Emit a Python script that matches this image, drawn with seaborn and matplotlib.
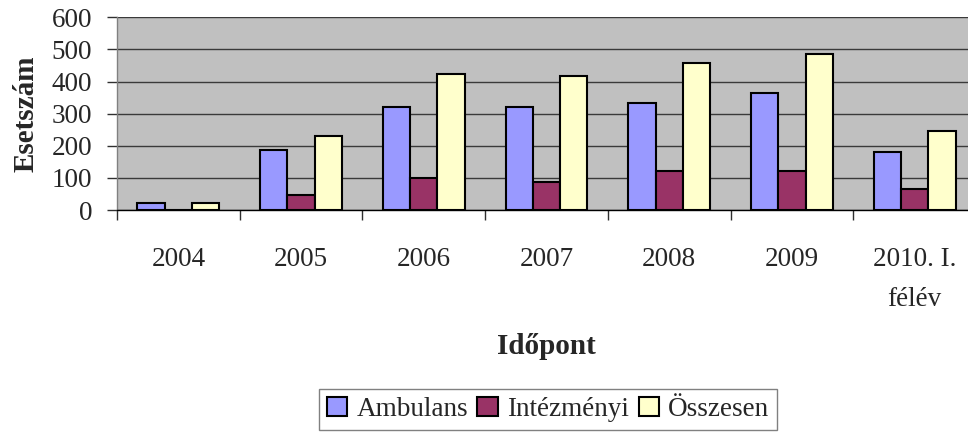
import matplotlib
matplotlib.use("Agg")
import matplotlib.pyplot as plt
import seaborn as sns
import pandas as pd
import numpy as np
from matplotlib.patches import Patch

categories = ["2004", "2005", "2006", "2007", "2008", "2009", "2010. I.\nfélév"]
series_names = ["Ambulans", "Intézményi", "Összesen"]
ambulans = [22, 187, 321, 321, 334, 363, 181]
intezmenyi = [0, 47, 99, 87, 122, 122, 64]
osszesen = [22, 229, 422, 417, 458, 487, 246]
y_ticks = [0, 100, 200, 300, 400, 500, 600]
colors = ["#9999FF", "#993366", "#FFFFCC"]

df = pd.DataFrame({
    "cat": categories * 3,
    "series": [series_names[0]] * 7 + [series_names[1]] * 7 + [series_names[2]] * 7,
    "value": ambulans + intezmenyi + osszesen,
})

sns.set_style("white")
plt.rcParams["font.family"] = ["Liberation Serif", "DejaVu Serif"]
FS = 19.5
FSB = 21

fig = plt.figure(figsize=(9.68, 4.32), dpi=100)
W, H = 968, 432
left, right, top, bottom = 117, 976, 17.3, 210
ax = fig.add_axes([left / W, 1 - bottom / H, (right - left) / W, (bottom - top) / H])
ax.set_facecolor("#C0C0C0")

sns.barplot(data=df, x="cat", y="value", hue="series", order=categories,
            hue_order=series_names, palette=colors, width=2 / 3, saturation=1,
            edgecolor="black", linewidth=1.5, ax=ax, legend=False, zorder=3)

ax.set_xlim(-0.5, len(categories) - 0.5)
ax.set_ylim(0, 600)
ax.set_yticks(y_ticks)
ax.set_yticklabels([str(t) for t in y_ticks], fontsize=FS)
ax.yaxis.grid(True, color="#3a3a3a", linewidth=1, zorder=0)
ax.set_axisbelow(True)

# x ticks at category boundaries, labels at centers
ax.set_xticks(np.arange(-0.5, len(categories), 1.0))
ax.set_xticklabels([])
ax.set_xticks(np.arange(len(categories)), minor=True)
ax.set_xticklabels(categories, minor=True, fontsize=FS, linespacing=1.75)
ax.tick_params(axis="x", which="major", direction="out", length=7, width=1, color="#303030", bottom=True)
ax.tick_params(axis="x", which="minor", length=0, pad=27)
ax.tick_params(axis="y", direction="out", length=7, width=1, color="#303030", pad=11, left=True)

for s in ["top", "right"]:
    ax.spines[s].set_visible(False)
ax.spines["left"].set_color("#808080")
ax.spines["bottom"].set_color("black")
ax.spines["left"].set_linewidth(1)
ax.spines["bottom"].set_linewidth(1)

ax.set_ylabel("Esetszám", fontsize=FSB, fontweight="bold")
ax.yaxis.set_label_coords((26 - left) / (right - left), 0.5)
ax.yaxis.label.set_va("center")
ax.set_xlabel("Időpont", fontsize=FSB, fontweight="bold")
ax.xaxis.set_label_coords(0.5, (bottom - 347) / (bottom - top))
ax.xaxis.label.set_va("center")

handles = [Patch(facecolor=c, edgecolor="black", linewidth=1.5, label=n) for c, n in zip(colors, series_names)]
leg = fig.legend(handles=handles, loc="upper center", bbox_to_anchor=(548 / W, 1 - 389 / H),
                 ncol=3, fontsize=FS, frameon=True, fancybox=False, framealpha=1,
                 edgecolor="#808080", handlelength=0.75, handleheight=0.75,
                 handletextpad=0.35, columnspacing=0.35, borderpad=0.28, borderaxespad=0)
leg.get_frame().set_linewidth(1)

fig.savefig("out.png", dpi=100)
